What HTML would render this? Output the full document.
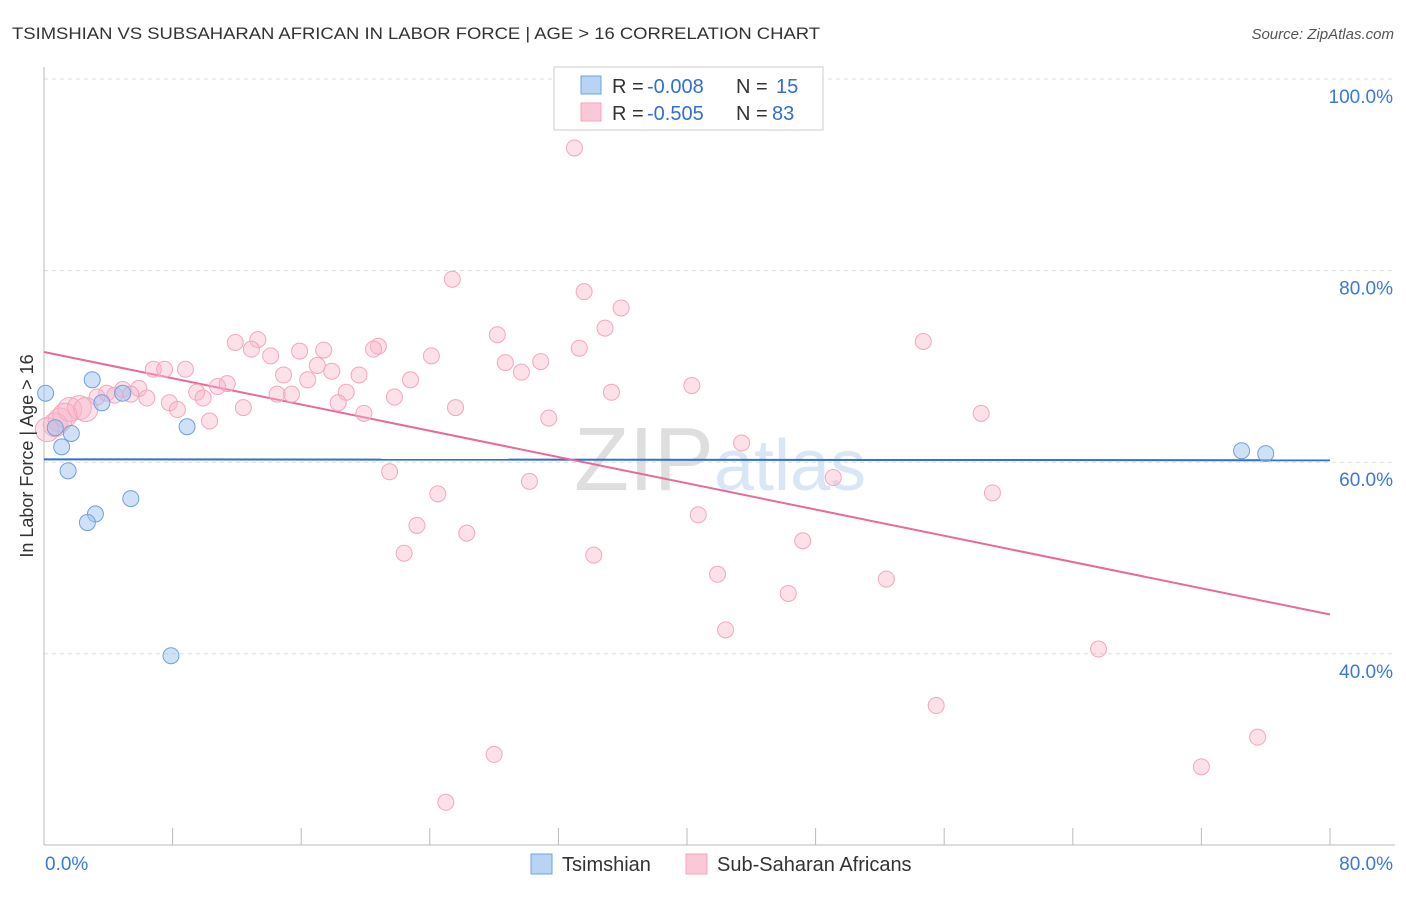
<!DOCTYPE html>
<html><head><meta charset="utf-8"><style>
body{margin:0;background:#fff;font-family:"Liberation Sans",sans-serif;}
svg text{font-family:"Liberation Sans",sans-serif;}
</style></head><body>
<svg id="chart" width="1406" height="892" viewBox="0 0 1406 892" xmlns="http://www.w3.org/2000/svg">
<text x="12" y="39" font-size="17" fill="#333" textLength="808" lengthAdjust="spacingAndGlyphs">TSIMSHIAN VS SUBSAHARAN AFRICAN IN LABOR FORCE | AGE &gt; 16 CORRELATION CHART</text>
<text x="1394" y="39" font-size="15" fill="#555" text-anchor="end" font-style="italic">Source: ZipAtlas.com</text>
<text x="720" y="490" font-size="90" text-anchor="middle" fill="#e6e6e6" font-family="Liberation Serif"><tspan fill="#dedede">ZIP</tspan><tspan fill="#d8e6f6" font-family="Liberation Sans" font-size="72">atlas</tspan></text>
<g id="grid"></g>
<g id="axes"></g>
<g id="lines"></g>
<g id="points"></g>
<text transform="translate(33,456) rotate(-90)" font-size="18" fill="#333" text-anchor="middle">In Labor Force | Age &gt; 16</text>
<g>
<rect x="554" y="67" width="269" height="63" fill="#fff" stroke="#ccc"/>
<rect x="581" y="76" width="20" height="18" fill="#b9d3f5" stroke="#6fa0e0"/>
<rect x="581" y="103" width="20" height="18" fill="#fbc8d7" stroke="#f4a6be"/>
<text x="612" y="93" font-size="20" fill="#333">R = <tspan x="647" fill="#2f6fd6">-0.008</tspan><tspan x="736">N = </tspan><tspan x="776" fill="#2f6fd6">15</tspan></text>
<text x="612" y="120" font-size="20" fill="#333">R = <tspan x="647" fill="#2f6fd6">-0.505</tspan><tspan x="736">N = </tspan><tspan x="772" fill="#2f6fd6">83</tspan></text>
</g>
<g>
<rect x="531" y="854" width="21" height="20" fill="#b9d3f5" stroke="#6fa0e0"/>
<text x="562" y="871" font-size="20" fill="#333">Tsimshian</text>
<rect x="686" y="854" width="21" height="20" fill="#fbc8d7" stroke="#f4a6be"/>
<text x="717" y="871" font-size="20" fill="#333">Sub-Saharan Africans</text>
</g>
</svg>
<script>
const yTicks=[40,60,80,100];
const yTickLabels=["40.0%","60.0%","80.0%","100.0%"];
const xTicks=[0,8,16,24,32,40,48,56,64,72,80];
const xEndLabels=["0.0%","80.0%"];
const blueX=[0.1,3.0,3.6,4.9,0.7,1.7,1.1,1.5,3.2,2.7,5.4,8.9,7.9,74.5,76.0];
const blueY=[67.2,68.6,66.2,67.2,63.6,63.0,61.6,59.1,54.6,53.7,56.2,63.7,39.8,61.2,60.9];
const pinkX=[33.0,25.4,33.6,35.9,34.9,28.2,54.7,33.3,11.9,13.3,12.9,14.1,15.9,17.4,20.8,20.5,24.1,28.7,30.9,29.7,17.0,14.9,16.4,17.9,19.6,22.8,6.8,7.5,8.8,5.9,4.9,3.9,3.3,4.4,5.4,6.4,7.8,8.3,9.5,9.9,10.8,11.4,10.3,12.4,14.5,15.4,18.8,18.3,19.9,21.8,25.6,31.4,35.3,40.3,58.3,43.4,21.5,30.2,24.5,49.1,59.0,23.2,26.3,22.4,34.2,40.7,47.2,41.9,52.4,46.3,42.4,65.6,55.5,75.5,72.0,28.0,25.0,1.0,1.6,2.2,2.6,0.7,1.3,0.2];
const pinkY=[92.8,79.1,77.8,76.1,74.0,73.3,72.6,71.9,72.5,72.8,71.8,71.1,71.6,71.7,72.1,71.8,71.1,70.4,70.5,69.4,70.1,69.1,68.6,69.5,69.1,68.6,69.7,69.7,69.7,67.7,67.6,67.2,66.8,67.0,67.1,66.7,66.2,65.5,67.3,66.7,67.9,68.2,64.3,65.7,67.1,67.1,67.3,66.2,65.1,66.8,65.7,64.6,67.3,68.0,65.1,62.0,59.0,58.0,56.7,58.4,56.8,53.4,52.6,50.5,50.3,54.5,51.8,48.3,47.8,46.3,42.5,40.5,34.6,31.3,28.2,29.5,24.5,64.4,65.5,65.7,65.5,63.9,64.9,63.4];
const pinkBig=[77,78,79,80,81,82,83];
const blueTrend=[60.3,60.2];
const pinkTrend=[71.5,44.1];
const NS="http://www.w3.org/2000/svg";
const X=v=>44+v/80*1286;
const Y=v=>79+(100-v)*9.58;
function mk(tag,attrs,parent){const e=document.createElementNS(NS,tag);for(const k in attrs)e.setAttribute(k,attrs[k]);document.getElementById(parent).appendChild(e);return e;}
yTicks.forEach((t,i)=>{
 const l=mk('line',{x1:44,x2:1395,y1:Y(t),y2:Y(t),stroke:'#ddd','stroke-dasharray':'4,4'},'grid');
 
 
 const tx=mk('text',{x:1393,y:Y(t)+24,'font-size':19,fill:'#3b78d8','text-anchor':'end'},'grid');
 tx.textContent=yTickLabels[i];
 
 
});
let a=mk('line',{x1:44,x2:44,y1:67,y2:845,stroke:'#bbb'},'axes');


a=mk('line',{x1:44,x2:1395,y1:845,y2:845,stroke:'#bbb'},'axes');


xTicks.forEach(t=>{
 const l=mk('line',{x1:X(t),x2:X(t),y1:828,y2:845,stroke:'#bbb'},'axes');
 
 
});
let t1=mk('text',{x:45,y:870,'font-size':19,fill:'#3b78d8'},'axes');t1.textContent=xEndLabels[0];


let t2=mk('text',{x:1393,y:870,'font-size':19,fill:'#3b78d8','text-anchor':'end'},'axes');t2.textContent=xEndLabels[1];


function pts(xs,ys,fill,stroke,name,big){xs.forEach((x,i)=>{
 const r=big&&big.includes(i)?12:8;
 const c=mk('circle',{cx:X(x),cy:Y(ys[i]),r:r,fill:fill,stroke:stroke,'stroke-width':1},'points');
 
 
});}
pts(pinkX,pinkY,'rgba(248,180,200,0.4)','#f4a6be','sub-saharan-point',pinkBig);
pts(blueX,blueY,'rgba(160,196,240,0.5)','#6fa0e0','tsimshian-point',null);
let bl=mk('line',{x1:X(0),x2:X(80),y1:Y(blueTrend[0]),y2:Y(blueTrend[1]),stroke:'#2f6fd6','stroke-width':2},'lines');


let pl=mk('line',{x1:X(0),x2:X(80),y1:Y(pinkTrend[0]),y2:Y(pinkTrend[1]),stroke:'#e8699a','stroke-width':2},'lines');


</script>
</body></html>
